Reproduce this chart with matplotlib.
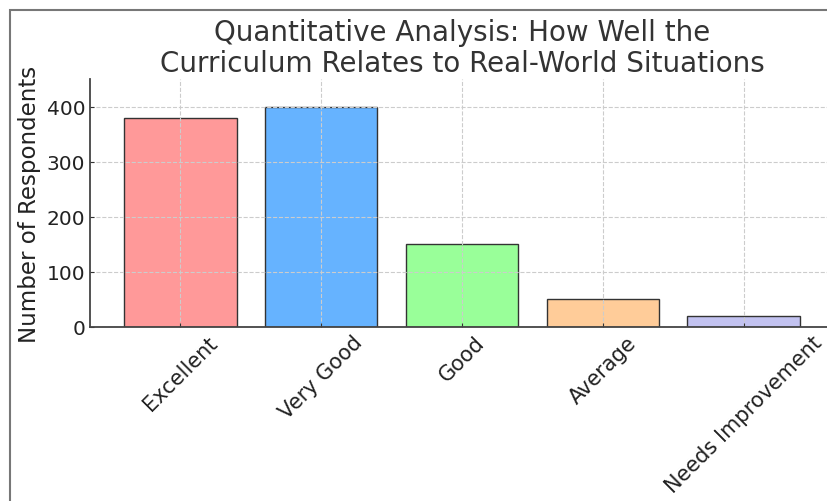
import matplotlib.pyplot as plt
from matplotlib.patches import Rectangle

categories = ['Excellent', 'Very Good', 'Good', 'Average', 'Needs Improvement']
respondents = [380, 400, 150, 50, 20]
colors = ['#ff9999', '#66b3ff', '#99ff99', '#ffcc99', '#c2c2f0']

fig = plt.figure(figsize=(8.27, 5.02), dpi=100)

# outer frame of the original (cropped) figure
fig.patches.append(Rectangle((10 / 827, -0.1), 1.1, 1.1 - 11 / 502,
                             transform=fig.transFigure, fill=False,
                             edgecolor='#777777', linewidth=1.5))

ax = fig.add_axes([90 / 827, 174 / 502, 744 / 827, 248 / 502])
ax.bar(categories, respondents, color=colors, edgecolor='#333333', linewidth=1)

ax.set_ylim(0, 450)
ax.set_yticks([0, 100, 200, 300, 400])
ax.set_title('Quantitative Analysis: How Well the\nCurriculum Relates to Real-World Situations',
             fontsize=20, color='#333333', pad=6, linespacing=1.1)
ax.set_ylabel('Number of Respondents', fontsize=16.5, color='#222222')
ax.tick_params(axis='both', direction='in', length=3, colors='#333333',
               labelcolor='#222222')
ax.tick_params(axis='x', labelsize=15)
ax.tick_params(axis='y', labelsize=14.5)
plt.setp(ax.get_xticklabels(), rotation=45)
ax.grid(True, linestyle='--', color='#cccccc', linewidth=0.8)
ax.spines['top'].set_visible(False)
ax.spines['right'].set_visible(False)
for s in ['left', 'bottom']:
    ax.spines[s].set_color('#444444')
    ax.spines[s].set_linewidth(1.3)

fig.savefig('out.png', dpi=100)
